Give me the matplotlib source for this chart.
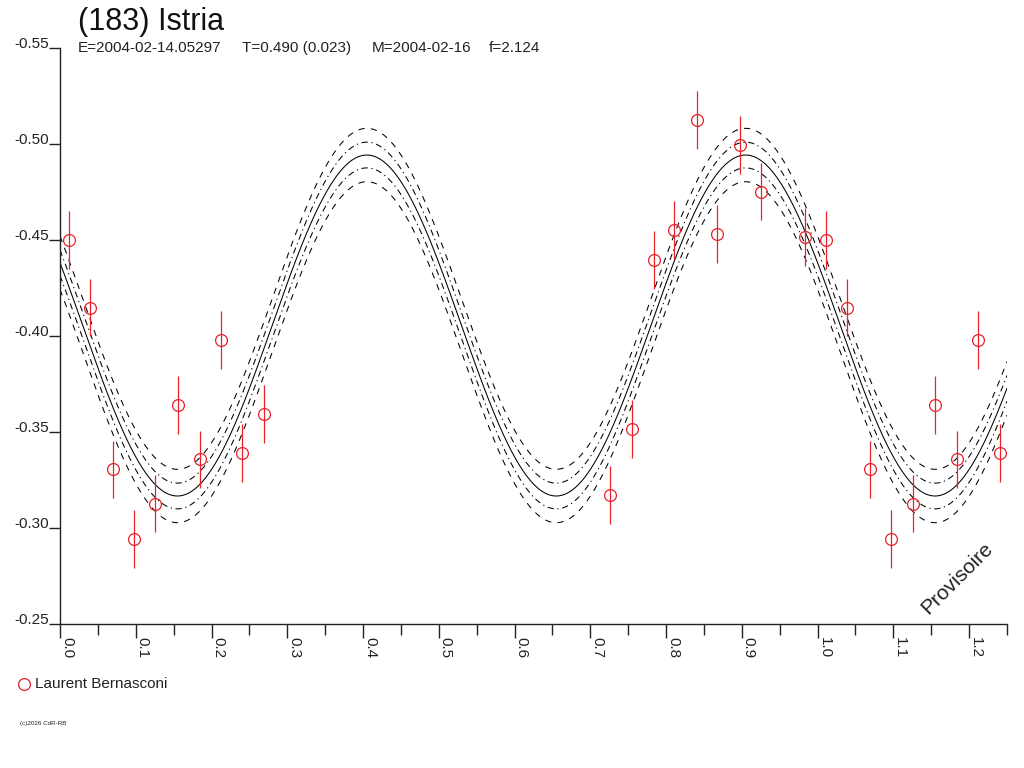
import numpy as np
import matplotlib
matplotlib.use("Agg")
import matplotlib.pyplot as plt
from matplotlib.ticker import MultipleLocator

plt.rcParams['font.family'] = ['Liberation Sans', 'DejaVu Sans']

# ---- data (phase, reduced magnitude) ----
phase = [0.0116, 0.0393, 0.0693, 0.0974, 0.1260, 0.1554, 0.1844, 0.2121, 0.2408, 0.2689,
         0.7266, 0.7544, 0.7834, 0.8111, 0.8406, 0.8678, 0.8974, 0.9251, 0.9831]
mag = [-0.4497, -0.4145, -0.3303, -0.2939, -0.3124, -0.3638, -0.3355, -0.3977, -0.3387, -0.3590,
       -0.3169, -0.3512, -0.4393, -0.4548, -0.5121, -0.4529, -0.4992, -0.4749, -0.4513]
err = [0.015] * len(phase)

# ---- fitted model (2nd harmonic Fourier fit) ----
fit_mean = -0.4052
fit_amp = 0.0888
fit_phase0 = 0.405
band_inner = 0.0067
band_outer = 0.0139

title = "(183) Istria"
sub_parts = ["E=2004-02-14.05297", "T=0.490 (0.023)", "M=2004-02-16", "f=2.124"]
observer = "Laurent Bernasconi"
x_max = 1.25

fig = plt.figure(figsize=(10.24, 7.68), dpi=100)
ax = fig.add_axes([60/1024, 1-623.5/768, (1007-60)/1024, (623.5-47.5)/768])

# model curves
xs = np.linspace(0, x_max, 800)
model = fit_mean - fit_amp * np.cos(4*np.pi*(xs - fit_phase0))
lw = 0.75
ax.plot(xs, model, color='black', lw=lw)
for s in (-1, 1):
    ax.plot(xs, model + s*band_inner, color='black', lw=lw, ls=(0, (6, 3.5, 1.2, 3.5)))
    ax.plot(xs, model + s*band_outer, color='black', lw=lw, ls=(0, (6, 6)))

# data with +1 copies inside range
ph_all, mag_all, err_all = [], [], []
for p, m, e in zip(phase, mag, err):
    for k in (0, 1):
        if 0 <= p + k <= x_max:
            ph_all.append(p + k); mag_all.append(m); err_all.append(e)
red = '#e8202a'
ax.errorbar(ph_all, mag_all, yerr=err_all, fmt='o', mfc='none', mec=red, ms=8.5,
            mew=0.9, ecolor=red, elinewidth=0.9, capsize=0)

ax.set_xlim(0, x_max)
ax.set_ylim(-0.25, -0.55)
ax.spines['top'].set_visible(False)
ax.spines['right'].set_visible(False)
for sp in ('left', 'bottom'):
    ax.spines[sp].set_linewidth(1.0)
    ax.spines[sp].set_color('#222222')

ax.set_yticks([-0.55, -0.50, -0.45, -0.40, -0.35, -0.30, -0.25])
ax.set_yticklabels(['-0.55', '-0.50', '-0.45', '-0.40', '-0.35', '-0.30', '-0.25'])
ax.xaxis.set_major_locator(MultipleLocator(0.1))
ax.xaxis.set_minor_locator(MultipleLocator(0.05))
ax.set_xticklabels([f"{v:.1f}" for v in ax.get_xticks()])
ax.tick_params(axis='y', direction='out', length=8, width=1, pad=0, labelsize=11, colors='#222222')
ax.tick_params(axis='x', which='major', direction='out', length=10, width=1, pad=0, labelsize=11, colors='#222222')
ax.tick_params(axis='x', which='minor', direction='out', length=8, width=1, colors='#222222')
for lab in ax.get_yticklabels():
    lab.set_verticalalignment('baseline')
for lab in ax.get_xticklabels():
    lab.set_rotation(270)
    lab.set_horizontalalignment('left')
    lab.set_verticalalignment('top')

# header text
fig.text(78/1024, 1-22/768, title, fontsize=22, ha='left', va='center', color='#111111')
for x, s in zip([78, 242, 372, 489], sub_parts):
    fig.text(x/1024, 1-48/768, s, fontsize=11, ha='left', va='center', color='#222222')

# watermark
fig.text(957/1024, 1-578/768, "Provisoire", fontsize=15, rotation=45, ha='center', va='center', color='#222222')

# legend
fig.lines.append(plt.Line2D([24/1024], [1-684/768], marker='o', mfc='none', mec=red, ms=8.5, mew=0.9,
                            transform=fig.transFigure))
fig.text(35/1024, 1-684/768, observer, fontsize=11, ha='left', va='center', color='#222222')
fig.text(20/1024, 1-724/768, "(c)2026 CdR-RB", fontsize=4.5, ha='left', va='center', color='#222222')

fig.savefig('out.png', dpi=100)
